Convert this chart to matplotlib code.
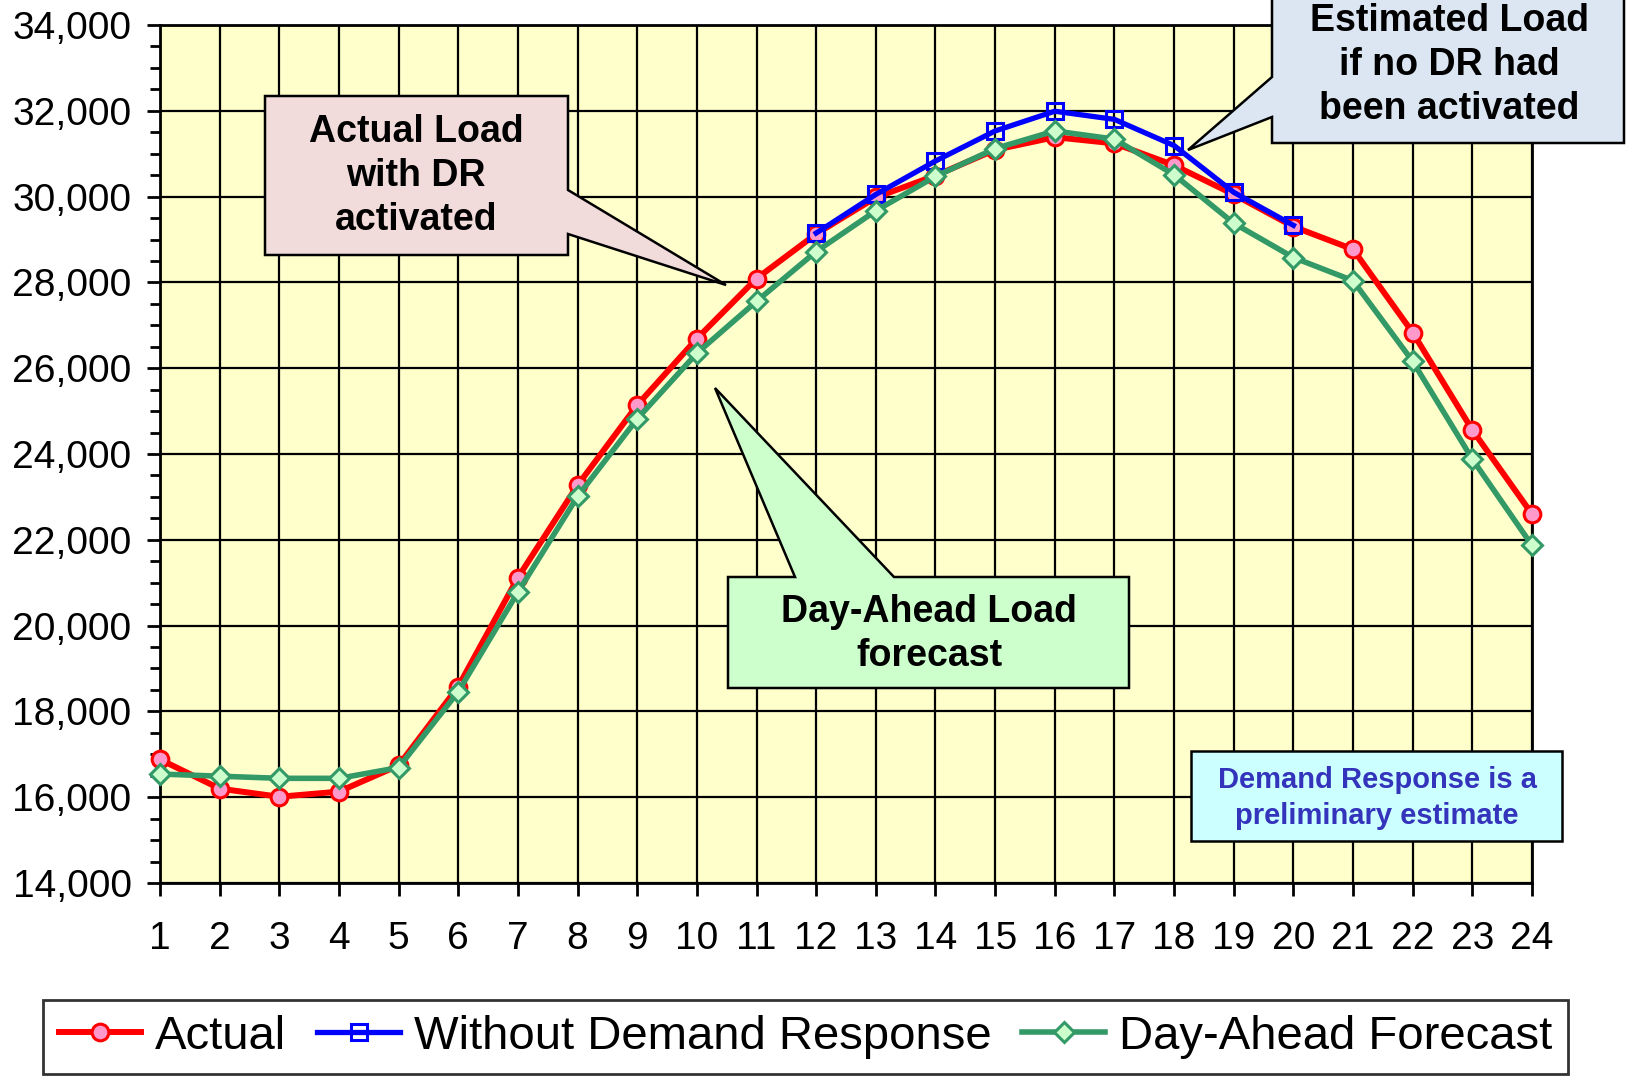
import numpy as np
import matplotlib
matplotlib.use("Agg")
import matplotlib.pyplot as plt
from matplotlib.patches import Polygon
from matplotlib.ticker import MultipleLocator, FuncFormatter

plt.rcParams['font.family'] = ['Liberation Sans', 'DejaVu Sans']

# hourly load values (MW)
hours = list(range(1, 25))
actual = [16880, 16200, 16010, 16130, 16740, 18580, 21120, 23270, 25140, 26690,
          28090, 29130, 29980, 30490, 31090, 31385, 31240, 30730, 30050, 29300,
          28770, 26830, 24560, 22600]
no_dr_hours = [12, 13, 14, 15, 16, 17, 18, 19, 20]
no_dr = [29150, 30050, 30830, 31530, 31990, 31800, 31190, 30100, 29330]
day_ahead = [16540, 16490, 16440, 16440, 16690, 18460, 20780, 23010, 24820, 26350,
             27560, 28720, 29670, 30470, 31120, 31530, 31340, 30510, 29380, 28580,
             28040, 26160, 23880, 21870]

W, H = 1627, 1076
fig = plt.figure(figsize=(W / 100, H / 100), dpi=100)
ax = fig.add_axes([160 / W, 1 - 883 / H, 1372 / W, 858 / H])
ax.set_facecolor('#FFFFCC')

ax.plot(hours, actual, color='#FF0000', lw=4.3, marker='o', ms=12,
        mfc='#FF99CC', mec='#FF0000', mew=2.2, label='Actual', zorder=3, clip_on=False)
ax.plot(no_dr_hours, no_dr, color='#0000FF', lw=3.8, marker='s', ms=12,
        mfc='none', mec='#0000FF', mew=2.2, label='Without Demand Response', zorder=4,
        clip_on=False)
ax.plot(hours, day_ahead, color='#339966', lw=4.0, marker='D', ms=10,
        mfc='#CCFFCC', mec='#339966', mew=2.2, label='Day-Ahead Forecast', zorder=5,
        clip_on=False)

ax.set_xlim(1, 24)
ax.set_ylim(14000, 34000)
ax.set_xticks(hours)
ax.yaxis.set_major_locator(MultipleLocator(2000))
ax.yaxis.set_minor_locator(MultipleLocator(500))
ax.yaxis.set_major_formatter(FuncFormatter(lambda v, p: f"{int(v):,}"))
ax.set_axisbelow(True)
ax.grid(True, which='major', color='black', lw=1.6)
for s in ax.spines.values():
    s.set_color('black')
    s.set_linewidth(2)
ax.tick_params(axis='y', which='major', length=9.5, width=2, labelsize=28, pad=11)
ax.tick_params(axis='y', which='minor', length=7.5, width=2)
ax.tick_params(axis='x', which='major', length=9.5, width=2, labelsize=28, pad=18)

leg = ax.legend(loc='center', bbox_to_anchor=(805.5 / W, 1 - 1037 / H),
                bbox_transform=fig.transFigure, ncol=3, fontsize=34,
                frameon=True, fancybox=False, edgecolor='black',
                handlelength=1.75, handletextpad=0.3, columnspacing=0.65,
                borderpad=0.32, borderaxespad=0)
leg.get_frame().set_linewidth(2)


def px(pts):
    return [(x / W, 1 - y / H) for x, y in pts]


# callout boxes (pixel coordinates of the figure)
callouts = [
    ([(265, 96), (568, 96), (568, 190), (726, 285), (568, 234), (568, 255), (265, 255)],
     '#F2DCDB'),
    ([(728, 577), (795, 577), (715, 388), (894, 577), (1129, 577), (1129, 688), (728, 688)],
     '#CCFFCC'),
    ([(1272, -10), (1624, -10), (1624, 143), (1272, 143), (1272, 117), (1188, 150), (1272, 77)],
     '#DCE6F2'),
    ([(1191, 751), (1562, 751), (1562, 841), (1191, 841)], '#CCFFFF'),
]
for pts, fc in callouts:
    fig.add_artist(Polygon(px(pts), closed=True, facecolor=fc, edgecolor='black',
                           lw=1.8, transform=fig.transFigure, zorder=10))

fig.text(416 / W, 1 - 176 / H, "Actual Load\nwith DR\nactivated", ha='center', va='center',
         fontsize=27, fontweight='bold', linespacing=1.3, zorder=11)
fig.text(929 / W, 1 - 634 / H, "Day-Ahead Load\nforecast", ha='center', va='center',
         fontsize=27, fontweight='bold', linespacing=1.3, zorder=11)
fig.text(1449 / W, 1 - 65 / H, "Estimated Load\nif no DR had\nbeen activated", ha='center',
         va='center', fontsize=27, fontweight='bold', linespacing=1.3, zorder=11)
fig.text(1377 / W, 1 - 798 / H, "Demand Response is a\npreliminary estimate", ha='center',
         va='center', fontsize=21, fontweight='bold', color='#3333BB', linespacing=1.38,
         zorder=11)

fig.savefig('out.png', dpi=100)
